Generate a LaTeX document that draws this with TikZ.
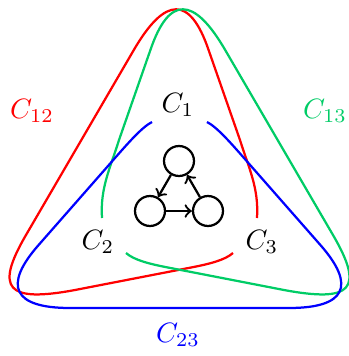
\documentclass[tikz,border=0pt]{standalone}
\definecolor{mygreen}{RGB}{0,204,102}
\begin{document}
\begin{tikzpicture}[x=0.357pt,y=-0.357pt,
  curve/.style={line width=0.8pt},
  vert/.style={circle,draw,line width=0.8pt,minimum size=10.7pt,inner sep=0pt},
  arr/.style={->,line width=0.8pt},
  lab/.style={inner sep=0pt}]
\useasboundingbox (0,0) rectangle (349,356);
% red C12 (open at C3)
\def\redpath{(257,218) .. controls (259,188) and (248.7,168) .. (240,140)
  -- (208.6,50)
  .. controls (190.1,-4.3) and (165.4,-4.3) .. (133.8,50)
  -- (26,235)
  .. controls (-5.5,289) and (6.75,302.75) .. (75,290)
  -- (190,267.7)
  .. controls (210,263.9) and (225,260) .. (233,253)}
\draw[curve,red] \redpath;
% green C13 = mirror of red
\begin{scope}[shift={(359,0)},xscale=-1]
\draw[curve,mygreen] \redpath;
\end{scope}
% blue C23 (open at C1)
\draw[curve,blue] (152,122) .. controls (142,127) and (127.3,144) .. (115,158)
  -- (38.6,245) .. controls (2.5,286) and (13.4,308) .. (70,308)
  -- (289,308) .. controls (345.6,308) and (356.5,286) .. (320.4,245)
  -- (244,158) .. controls (231.7,144) and (217,127) .. (207,122);
% labels
\node[lab] (c1) at (178,105) {$C_1$};
\node[lab] (c2) at (98,242) {$C_2$};
\node[lab] (c3) at (262,242) {$C_3$};
\node[lab,red] (c12) at (32,111) {$C_{12}$};
\node[lab,mygreen] (c13) at (325,111) {$C_{13}$};
\node[lab,blue] (c23) at (178,335) {$C_{23}$};
% small graph
\node[vert] (a) at (179,161) {};
\node[vert] (b) at (150,211) {};
\node[vert] (c) at (208,211) {};
\draw[arr] (a) -- (b);
\draw[arr] (b) -- (c);
\draw[arr] (c) -- (a);
\end{tikzpicture}
\end{document}
